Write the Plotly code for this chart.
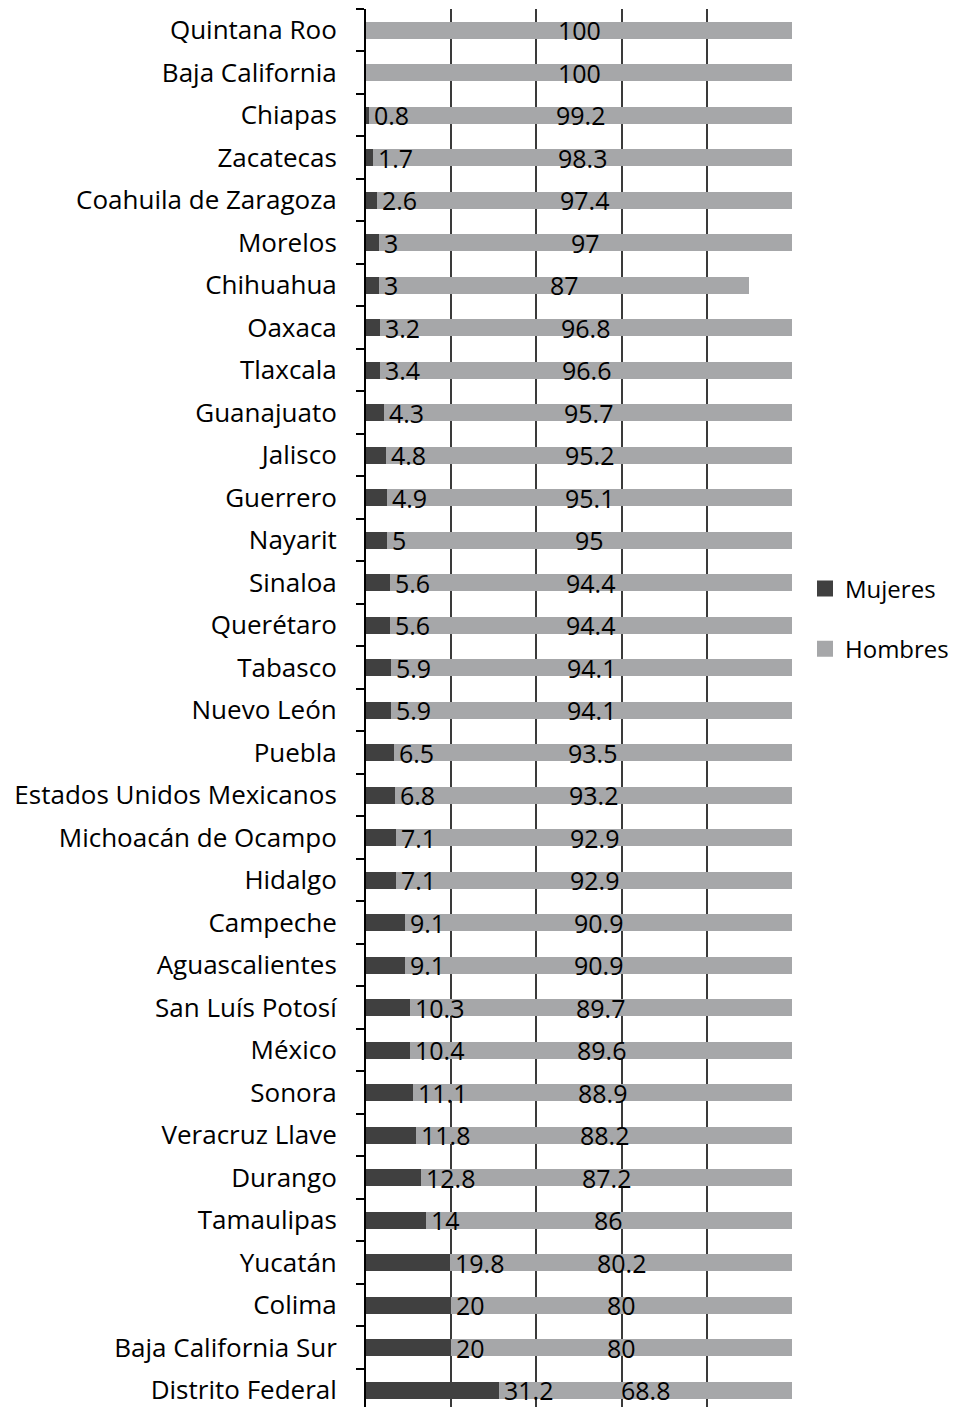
import plotly.graph_objects as go

# Estados, de arriba hacia abajo
estados = [
    "Quintana Roo", "Baja California", "Chiapas", "Zacatecas",
    "Coahuila de Zaragoza", "Morelos", "Chihuahua", "Oaxaca", "Tlaxcala",
    "Guanajuato", "Jalisco", "Guerrero", "Nayarit", "Sinaloa", "Querétaro",
    "Tabasco", "Nuevo León", "Puebla", "Estados Unidos Mexicanos",
    "Michoacán de Ocampo", "Hidalgo", "Campeche", "Aguascalientes",
    "San Luís Potosí", "México", "Sonora", "Veracruz Llave", "Durango",
    "Tamaulipas", "Yucatán", "Colima", "Baja California Sur",
    "Distrito Federal",
]

mujeres = [
    0, 0, 0.8, 1.7, 2.6, 3, 3, 3.2, 3.4, 4.3, 4.8, 4.9, 5, 5.6, 5.6, 5.9,
    5.9, 6.5, 6.8, 7.1, 7.1, 9.1, 9.1, 10.3, 10.4, 11.1, 11.8, 12.8, 14,
    19.8, 20, 20, 31.2,
]

hombres = [
    100, 100, 99.2, 98.3, 97.4, 97, 87, 96.8, 96.6, 95.7, 95.2, 95.1, 95,
    94.4, 94.4, 94.1, 94.1, 93.5, 93.2, 92.9, 92.9, 90.9, 90.9, 89.7, 89.6,
    88.9, 88.2, 87.2, 86, 80.2, 80, 80, 68.8,
]

COLOR_MUJERES = "#404040"
COLOR_HOMBRES = "#a6a7a9"
FONT = "Open Sans"
CAT_SIZE = 26
VAL_SIZE = 25
LEG_SIZE = 24

fig = go.Figure()
fig.add_trace(go.Bar(
    y=estados, x=mujeres, orientation="h", name="Mujeres",
    marker=dict(color=COLOR_MUJERES, line=dict(width=0)),
    showlegend=False, hoverinfo="x+y",
))
fig.add_trace(go.Bar(
    y=estados, x=hombres, orientation="h", name="Hombres",
    marker=dict(color=COLOR_HOMBRES, line=dict(width=0)),
    showlegend=False, hoverinfo="x+y",
))

# legend entries with larger square swatches
for name, color, grp in [("Mujeres", COLOR_MUJERES, "m"),
                         ("Hombres", COLOR_HOMBRES, "h")]:
    fig.add_trace(go.Scatter(
        x=[None], y=[None], mode="markers", name=name, legendgroup=grp,
        marker=dict(symbol="square", size=16, color=color),
        showlegend=True, hoverinfo="skip",
    ))

def fmt(v):
    return f"{v:g}"

annotations = []
for est, m, h in zip(estados, mujeres, hombres):
    if m > 0:
        annotations.append(dict(
            x=m, y=est, xref="x", yref="y", text=fmt(m), showarrow=False,
            xanchor="left", yanchor="middle", xshift=3,
            font=dict(family=FONT, size=VAL_SIZE, color="#000000"),
        ))
    annotations.append(dict(
        x=m + h / 2, y=est, xref="x", yref="y", text=fmt(h), showarrow=False,
        xanchor="center", yanchor="middle",
        font=dict(family=FONT, size=VAL_SIZE, color="#000000"),
    ))

fig.update_layout(
    width=957, height=1407,
    margin=dict(l=366, r=165, t=9, b=0),
    paper_bgcolor="white", plot_bgcolor="white",
    barmode="stack", bargap=0.6,
    font=dict(family=FONT, size=CAT_SIZE, color="#000000"),
    annotations=annotations,
    showlegend=True,
    legend=dict(
        xref="container", yref="container",
        x=805 / 957, y=1 - 619 / 1407, xanchor="left", yanchor="middle",
        font=dict(family=FONT, size=LEG_SIZE, color="#000000"),
        traceorder="grouped", tracegroupgap=26, itemsizing="trace",
        bgcolor="rgba(0,0,0,0)",
    ),
)

fig.update_xaxes(
    range=[0, 100], showticklabels=False, ticks="",
    showgrid=True, gridcolor="#3a3a3a", gridwidth=1.5,
    tickvals=[20, 40, 60, 80, 100],
    zeroline=False, showline=False, fixedrange=True,
)

fig.update_yaxes(
    autorange=False, range=[32.4, -0.5],
    type="category", categoryorder="array", categoryarray=estados,
    showline=True, linecolor="#000000", linewidth=2,
    ticks="outside", tickson="boundaries", ticklen=8, tickwidth=2,
    tickcolor="#000000", ticklabelstandoff=22,
    tickfont=dict(family=FONT, size=CAT_SIZE, color="#000000"),
    showgrid=False, zeroline=False, fixedrange=True,
)

fig.write_html("out.html")
